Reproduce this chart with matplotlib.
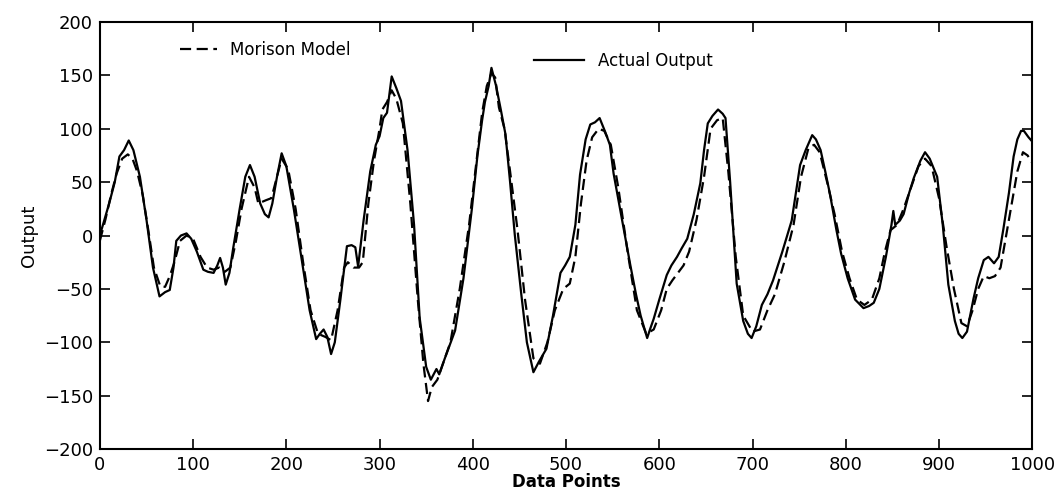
import matplotlib
matplotlib.use("Agg")
import matplotlib.pyplot as plt
from matplotlib.lines import Line2D

# values
actual_x = [0, 5, 10, 16, 21, 26, 31, 36, 43, 50, 57, 64, 70, 75, 79, 82, 87, 93, 98, 104,
            111, 116, 122, 126, 129, 132, 135, 139, 143, 150, 156, 161, 166, 172, 177, 181,
            185, 190, 195, 200, 208, 218, 225, 232, 236, 240, 244, 248, 252, 258, 265, 270,
            274, 277, 283, 290, 296, 300, 304, 308, 313, 318, 323, 330, 337, 343, 350, 355,
            358, 361, 364, 370, 381, 390, 399, 405, 410, 413, 417, 420, 425, 430, 435, 440,
            445, 452, 458, 465, 471, 479, 486, 494, 499, 504, 510, 515, 521, 526, 531, 536,
            542, 547, 551, 560, 569, 575, 580, 587, 590, 594, 600, 608, 613, 619, 624, 630,
            637, 644, 648, 652, 657, 663, 668, 671, 676, 683, 690, 695, 699, 704, 710, 716,
            722, 732, 742, 751, 757, 764, 768, 773, 778, 783, 790, 795, 802, 810, 819, 825,
            830, 836, 843, 849, 851, 853, 858, 862, 868, 873, 880, 885, 890, 898, 904, 910,
            917, 921, 925, 930, 937, 942, 948, 953, 959, 964, 969, 975, 980, 984, 988, 991,
            996, 1000]
actual_y = [0, 15, 30, 50, 74, 80, 89, 80, 55, 15, -30, -57, -53, -51, -30, -5, 0, 2, -3, -15,
            -32, -34, -35, -28, -21, -30, -46, -35, -12, 25, 55, 66, 55, 30, 20, 17,
            30, 55, 77, 65, 25, -31, -70, -97, -92, -88, -95, -111, -100, -60, -10, -9,
            -11, -29, 15, 60, 85, 93, 110, 115, 149, 138, 126, 80, 10, -77, -123, -135,
            -130, -125, -130, -115, -89, -40, 25, 75, 108, 125, 140, 157, 140, 118, 95, 50,
            1, -55, -100, -128, -118, -106, -75, -35, -28, -20, 10, 57, 90, 104, 106, 110,
            97, 85, 58, 15, -28, -55, -75, -96, -88, -78, -60, -37, -28, -20, -12, -3,
            20, 49, 80, 105, 112, 118, 114, 110, 50, -45, -80, -92, -96, -85, -65, -55,
            -42, -15, 14, 66, 80, 94, 90, 80, 60, 39, 5, -17, -40, -60, -68, -66,
            -63, -50, -20, 10, 23, 10, 14, 20, 40, 54, 70, 78, 72, 55, 10, -46,
            -80, -92, -96, -90, -59, -40, -23, -20, -26, -20, 6, 40, 74, 90, 98, 98,
            92, 88]

model_x = [0, 6, 12, 18, 24, 30, 35, 40, 46, 52, 58, 65, 70, 75, 80, 86, 93, 100, 108,
           115, 122, 128, 134, 140, 146, 152, 160, 166, 170, 178, 184, 190, 195, 202, 210,
           218, 226, 234, 242, 248, 255, 262, 266, 272, 278, 282, 288, 294, 300, 303, 308,
           313, 318, 325, 333, 341, 347, 352, 356, 362, 368, 376, 386, 396, 404, 410, 415,
           420, 424, 428, 434, 440, 448, 456, 465, 472, 480, 488, 497, 504, 510, 516, 522,
           528, 535, 541, 548, 556, 566, 576, 586, 594, 602, 608, 614, 620, 626, 632, 640,
           648, 655, 662, 668, 674, 682, 690, 700, 708, 716, 724, 734, 744, 752, 760, 766,
           772, 780, 788, 796, 804, 812, 820, 828, 836, 842, 848, 855, 862, 870, 878, 885,
           892, 900, 908, 916, 924, 930, 936, 942, 948, 954, 960, 966, 972, 978, 984, 990,
           995, 1000]
model_y = [-5, 15, 38, 58, 72, 76, 72, 60, 38, 5, -30, -48, -48, -38, -25, -5, 0, -3, -20,
           -30, -32, -30, -34, -30, -5, 25, 55, 45, 30, 33, 35, 55, 72, 62, 25,
           -25, -70, -92, -95, -98, -70, -30, -25, -30, -30, -25, 30, 70, 100, 118, 125,
           136, 128, 105, 30, -60, -120, -155, -142, -135, -120, -100, -50, 10, 70, 115, 140,
           152, 148, 120, 100, 60, 5, -60, -115, -120, -100, -70, -50, -45, -20, 30, 70,
           92, 100, 98, 85, 45, -15, -70, -92, -88, -70, -50, -42, -35, -28, -15, 15,
           55, 100, 108, 110, 60, -20, -75, -90, -88, -70, -55, -25, 10, 55, 82, 85,
           78, 50, 20, -15, -40, -60, -65, -60, -40, -15, 5, 10, 25, 45, 65, 72,
           65, 35, -10, -50, -82, -85, -70, -50, -38, -40, -38, -30, 0, 30, 60, 78,
           75, 68]

x_ticks = list(range(0, 1001, 100))
y_ticks = list(range(-200, 201, 50))

fig = plt.figure(figsize=(10.62, 4.99), dpi=100)
ax = fig.add_axes([0.094, 0.1, 0.878, 0.856])

ax.plot(model_x, model_y, color='black', linestyle=(0, (5, 2.5)), linewidth=1.6)
ax.plot(actual_x, actual_y, color='black', linestyle='-', linewidth=1.6)

ax.set_xlim(0, 1000)
ax.set_ylim(-200, 200)
ax.set_xticks(x_ticks)
ax.set_yticks(y_ticks)
ax.set_yticklabels(['\u2212' + str(-v) if v < 0 else str(v) for v in y_ticks])
ax.tick_params(direction='in', length=7, width=1.2, top=True, right=True, labelsize=13)
ax.tick_params(axis='x', pad=5)
ax.tick_params(axis='y', pad=5)
for side in ax.spines.values():
    side.set_linewidth(1.5)

ax.set_xlabel('Data Points', fontsize=12, fontweight='bold', labelpad=-1)
ax.set_ylabel('Output', fontsize=13, family=['Liberation Sans Narrow', 'DejaVu Sans'],
              labelpad=4)

h1 = [Line2D([], [], color='black', linestyle=(0, (5, 2.5)), linewidth=1.6)]
h2 = [Line2D([], [], color='black', linestyle='-', linewidth=1.6)]
leg1 = ax.legend(h1, ['Morison Model'], loc='upper left', bbox_to_anchor=(0.07, 0.99),
                 frameon=False, fontsize=12, handlelength=2.2)
ax.add_artist(leg1)
ax.legend(h2, ['Actual Output'], loc='upper left', bbox_to_anchor=(0.45, 0.965),
          frameon=False, fontsize=12, handlelength=3)

fig.savefig('out.png', dpi=100)
